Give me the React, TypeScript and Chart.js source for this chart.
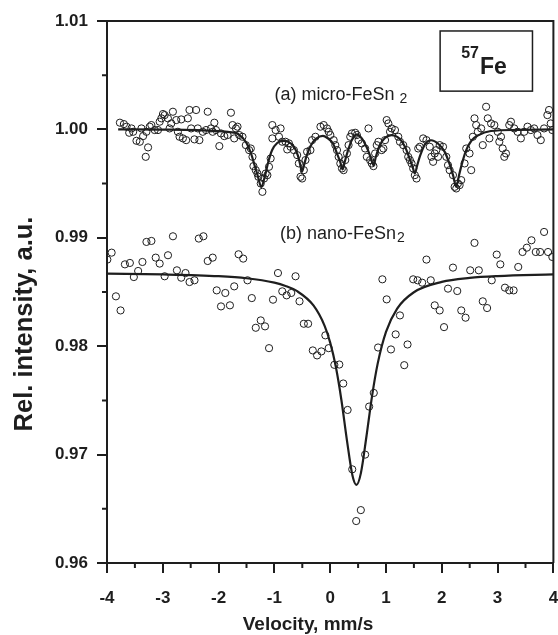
import React, { useEffect, useRef } from "react";
import { Chart, registerables } from "chart.js";

Chart.register(...registerables);

const FONT = '"Liberation Sans", Arial, Helvetica, sans-serif';
const INK = "#1e1e1e";

// (a) micro-FeSn2 measured points
const microVel = [
  -3.769, -3.697, -3.65, -3.602, -3.561, -3.531, -3.472, -3.412, -3.383, -3.353, -3.306, -3.294, -3.264, -3.234,
  -3.205, -3.145, -3.086, -3.056, -3.026, -2.997, -2.967, -2.908, -2.878, -2.848, -2.819, -2.759, -2.73, -2.7,
  -2.67, -2.64, -2.581, -2.551, -2.522, -2.492, -2.433, -2.403, -2.373, -2.344, -2.284, -2.225, -2.195, -2.136,
  -2.106, -2.076, -2.047, -1.987, -1.958, -1.898, -1.839, -1.779, -1.75, -1.72, -1.69, -1.661, -1.631, -1.572,
  -1.512, -1.453, -1.423, -1.393, -1.376, -1.334, -1.304, -1.287, -1.245, -1.215, -1.186, -1.156, -1.126, -1.097,
  -1.067, -1.037, -1.037, -0.978, -0.918, -0.889, -0.859, -0.8, -0.77, -0.74, -0.711, -0.651, -0.592, -0.562,
  -0.532, -0.503, -0.473, -0.443, -0.414, -0.354, -0.325, -0.265,
  -0.175, -0.116, -0.057, -0.027, 0.003, 0.062, 0.092, 0.122, 0.151, 0.181, 0.211, 0.24, 0.27, 0.3, 0.329, 0.359,
  0.389, 0.448, 0.478, 0.508, 0.567, 0.626, 0.656, 0.686, 0.715, 0.745, 0.775, 0.805, 0.834, 0.864, 0.923, 0.953,
  0.983, 1.012, 1.042, 1.072, 1.101, 1.161, 1.22, 1.25, 1.309, 1.369, 1.398, 1.428, 1.458, 1.487, 1.517, 1.547,
  1.577, 1.606, 1.666, 1.725, 1.784, 1.814, 1.844, 1.873, 1.903, 1.933, 1.962, 2.022, 2.081, 2.111, 2.141, 2.2,
  2.23, 2.259, 2.289, 2.319, 2.348, 2.408, 2.438, 2.497, 2.527, 2.556, 2.586, 2.616, 2.645, 2.705, 2.734, 2.794,
  2.824, 2.853, 2.883, 2.942, 3.002, 3.031, 3.061, 3.091, 3.12, 3.15, 3.209, 3.239, 3.298, 3.358, 3.417, 3.477,
  3.536, 3.596, 3.655, 3.714, 3.774, 3.833, 3.892, 3.922, 3.952, 3.981,
];
const microInt = [
  1.00062, 1.00049, 1.00025, 0.99969, 1.00009, 0.99978, 0.99895, 0.99886, 1.00009, 0.99938, 0.99747, 0.99978, 0.99834, 1.00025,
  1.0004, 0.99994, 0.99994, 1.00071, 1.00102, 1.00142, 1.00132, 1.00102, 1.00009, 1.00055, 1.00163, 1.00086, 0.99978, 0.99932,
  1.00092, 0.99917, 0.99901, 1.00102, 1.00179, 1.00009, 0.99908, 1.00179, 1.00009, 0.99901, 0.99978, 0.99994, 1.00163, 1.00009,
  0.99978, 1.00062, 0.99994, 0.99846, 0.99963, 0.99938, 0.99948, 1.00154, 1.0004, 0.99917, 1.00009, 1.00025, 0.99948, 0.99932,
  0.99855, 0.99809, 0.99824, 0.99747, 0.99661, 0.99624, 0.99593, 0.99563, 0.99501, 0.99424, 0.99547, 0.99593, 0.99578, 0.99655,
  0.99732, 1.0004, 0.99917, 0.99994, 0.99932, 1.00009, 0.99886, 0.99886, 0.99815, 0.99871, 0.9984, 0.99809, 0.99763, 0.99686,
  0.99563, 0.99547, 0.99624, 0.99717, 0.99794, 0.99809, 0.99901, 0.99932,
  1.00025, 1.0004, 1.00009, 0.99978, 0.99948, 0.99901, 0.99855, 0.99809, 0.99747, 0.99686, 0.9964, 0.99624, 0.99717, 0.99778, 0.99855, 0.99932,
  0.99963, 0.99969, 0.99948, 0.99901, 0.99871, 0.99824, 0.99747, 1.00009, 0.99717, 0.99686, 0.99661, 0.99778, 0.99855, 0.99886, 0.99809, 0.99824,
  0.99901, 1.00086, 1.00055, 0.99978, 1.00009, 0.99994, 0.99932, 0.99886, 0.99855, 0.99809, 0.99747, 0.99717, 0.99686, 0.9964, 0.99578, 0.99547,
  0.99824, 0.9984, 0.99917, 0.99901, 0.9984, 0.99747, 0.99701, 0.99778, 0.99809, 0.99747, 0.99855, 0.9984, 0.99747, 0.9967, 0.99624, 0.99578,
  0.9947, 0.99455, 0.99501, 0.99486, 0.99532, 0.99686, 0.99824, 0.99778, 0.99624, 0.99932, 1.00102, 1.0004, 0.99978, 1.00009, 0.99855, 1.00209,
  1.00102, 0.99917, 1.00055, 1.0004, 0.99978, 0.99886, 0.99932, 0.99824, 0.99747, 0.99778, 1.0004, 1.00071, 1.00009, 0.99978, 0.99917, 0.99978,
  1.00025, 0.99994, 1.00009, 0.99948, 0.99901, 1.00009, 1.00132, 1.00179, 1.00055, 0.99994,
];

// (a) fitted sextet curve
const microFitVel = [
  -3.8, -3.0, -2.4, -2.0, -1.8, -1.65, -1.5, -1.42, -1.35, -1.3, -1.235, -1.17, -1.11, -1.04, -0.95, -0.85, -0.75,
  -0.65, -0.58, -0.54, -0.505, -0.47, -0.42, -0.35, -0.25, -0.13, -0.05, 0.05, 0.12, 0.18, 0.222, 0.26, 0.31, 0.39,
  0.48, 0.57, 0.65, 0.72, 0.775, 0.82, 0.88, 0.98, 1.1, 1.22, 1.34, 1.43, 1.48, 1.517, 1.56, 1.61, 1.7, 1.81, 1.93,
  2.05, 2.14, 2.2, 2.259, 2.31, 2.37, 2.43, 2.53, 2.65, 2.88, 3.36, 4.0,
];
const microFitInt = [
  1.0, 0.99998, 0.99994, 0.99985, 0.99975, 0.99958, 0.99875, 0.9978, 0.9966, 0.99575, 0.9947, 0.9957, 0.997, 0.9981,
  0.99875, 0.99895, 0.99885, 0.9984, 0.9976, 0.9968, 0.9961, 0.9967, 0.9976, 0.9985, 0.99915, 0.9994, 0.9992, 0.9987,
  0.9978, 0.997, 0.9963, 0.997, 0.9979, 0.99905, 0.99955, 0.99915, 0.9984, 0.9975, 0.9967, 0.9975, 0.99845, 0.9992,
  0.99948, 0.99925, 0.9984, 0.9972, 0.9965, 0.99593, 0.9967, 0.99755, 0.99865, 0.999, 0.9987, 0.99795, 0.9968, 0.9958,
  0.9947, 0.9958, 0.997, 0.998, 0.99895, 0.99945, 0.99985, 0.99995, 1.0,
];

// (b) nano-FeSn2 measured points
const nanoVel = [
  -3.994, -3.917, -3.84, -3.757, -3.679, -3.59, -3.519, -3.442, -3.365, -3.293, -3.204, -3.127, -3.056, -2.967,
  -2.907, -2.818, -2.747, -2.67, -2.593, -2.521, -2.432, -2.355, -2.272, -2.195, -2.106, -2.034, -1.957, -1.88,
  -1.797, -1.72, -1.642, -1.559, -1.482, -1.405, -1.334, -1.245, -1.168, -1.096, -1.025, -0.936, -0.859, -0.781,
  -0.698, -0.621, -0.55, -0.473, -0.396, -0.312, -0.235, -0.158, -0.087, -0.027,
  0.074, 0.163, 0.234, 0.312, 0.395, 0.466, 0.549, 0.626, 0.698, 0.781, 0.858, 0.935, 1.012, 1.089, 1.173, 1.25,
  1.327, 1.386, 1.487, 1.565, 1.648, 1.725, 1.802, 1.873, 1.962, 2.04, 2.111, 2.2, 2.277, 2.349, 2.426, 2.509,
  2.586, 2.663, 2.734, 2.812, 2.895, 2.984, 3.049, 3.132, 3.209, 3.287, 3.37, 3.447, 3.524, 3.607, 3.684, 3.762,
  3.833, 3.904, 3.981,
];
const nanoInt = [
  0.98799, 0.98863, 0.9846, 0.9833, 0.98755, 0.98768, 0.98638, 0.98694, 0.98777, 0.98962, 0.98971, 0.98817, 0.98762, 0.98645,
  0.98839, 0.99014, 0.987, 0.98632, 0.98675, 0.98592, 0.98608, 0.98993, 0.99014, 0.98786, 0.98817, 0.98515, 0.98367, 0.98491,
  0.98377, 0.98552, 0.98848, 0.98808, 0.98608, 0.98444, 0.9817, 0.98238, 0.98183, 0.97982, 0.98429, 0.98675, 0.98506, 0.98469,
  0.98491, 0.98645, 0.98414, 0.98207, 0.98207, 0.97961, 0.97915, 0.97952, 0.981, 0.97982,
  0.97828, 0.97831, 0.97656, 0.97412, 0.96864, 0.96387, 0.96488, 0.97, 0.97443, 0.97569, 0.97988, 0.98617, 0.98432, 0.9797, 0.98109, 0.98284,
  0.97825, 0.98016, 0.98617, 0.98608, 0.98586, 0.98799, 0.98608, 0.98377, 0.9833, 0.98176, 0.98531, 0.98725, 0.98509, 0.9833, 0.98263, 0.987,
  0.98953, 0.987, 0.98414, 0.98352, 0.98608, 0.98845, 0.98755, 0.9854, 0.98515, 0.98515, 0.98731, 0.98869, 0.98909, 0.98977, 0.98869, 0.98869,
  0.99054, 0.98869, 0.98823,
];

// (b) fitted singlet curve
const nanoFitVel = [
  -4.0, -3.0, -2.0, -1.5, -1.0, -0.8, -0.6, -0.3, -0.1, 0.0, 0.1, 0.2, 0.3, 0.4, 0.47, 0.55, 0.65, 0.75, 0.85, 1.0,
  1.2, 1.5, 2.0, 2.5, 3.0, 4.0,
];
const nanoFitInt = [
  0.98669, 0.98662, 0.98646, 0.98627, 0.98586, 0.98556, 0.9851, 0.98376, 0.98188, 0.98033, 0.97812, 0.97506, 0.97131,
  0.96804, 0.9672, 0.96829, 0.97169, 0.9754, 0.97837, 0.98132, 0.98347, 0.98498, 0.98593, 0.9863, 0.98647, 0.98663,
];

// axis ticks
const xMin = -4;
const xMax = 4;
const yMin = 0.96;
const yMax = 1.01;
const xMinorTicks = [-3.5, -2.5, -1.5, -0.5, 0.5, 1.5, 2.5, 3.5];
const yMinorTicks = [0.965, 0.975, 0.985, 0.995, 1.005];

const toXY = (xs: number[], ys: number[]) => xs.map((v, i) => ({ x: v, y: ys[i] }));

export default function App() {
  const ref = useRef<HTMLCanvasElement>(null);

  useEffect(() => {
    document.body.style.margin = "0";
    const canvas = ref.current;
    if (!canvas) return;

    const decor = {
      id: "decor",
      afterDraw(chart: any) {
        const { ctx, chartArea: a, scales } = chart;
        const x = scales.x;
        const y = scales.y;
        ctx.save();
        ctx.strokeStyle = INK;
        ctx.lineWidth = 2;
        ctx.beginPath();
        ctx.moveTo(a.left - 1, a.top);
        ctx.lineTo(a.right, a.top);
        ctx.lineTo(a.right, a.bottom);
        ctx.stroke();

        ctx.beginPath();
        xMinorTicks.forEach((v) => {
          const px = x.getPixelForValue(v);
          ctx.moveTo(px, a.bottom);
          ctx.lineTo(px, a.bottom + 5);
        });
        yMinorTicks.forEach((v) => {
          const py = y.getPixelForValue(v);
          ctx.moveTo(a.left, py);
          ctx.lineTo(a.left - 5, py);
        });
        ctx.stroke();

        ctx.fillStyle = INK;
        ctx.textAlign = "center";
        ctx.textBaseline = "middle";
        ctx.font = `bold 19px ${FONT}`;
        ctx.fillText("Velocity, mm/s", 308, 625);
        ctx.save();
        ctx.translate(25, 324);
        ctx.rotate(-Math.PI / 2);
        ctx.font = `bold 25.5px ${FONT}`;
        ctx.fillText("Rel. intensity, a.u.", 0, 0);
        ctx.restore();

        // annotations
        ctx.textAlign = "left";
        ctx.textBaseline = "alphabetic";
        ctx.font = `18px ${FONT}`;
        const ax = x.getPixelForValue(-1.0);
        const ay = y.getPixelForValue(1.00272);
        const aText = "(a) micro-FeSn";
        ctx.fillText(aText, ax, ay);
        const aw = ctx.measureText(aText + " ").width;
        ctx.font = `14px ${FONT}`;
        ctx.fillText("2", ax + aw, ay + 3);

        ctx.font = `18px ${FONT}`;
        const bx = x.getPixelForValue(-0.9);
        const by = y.getPixelForValue(0.9899);
        const bText = "(b) nano-FeSn";
        ctx.fillText(bText, bx, by);
        const bw = ctx.measureText(bText).width;
        ctx.font = `14px ${FONT}`;
        ctx.fillText("2", bx + bw + 1, by + 3);

        // 57Fe box
        const rx0 = x.getPixelForValue(1.97);
        const rx1 = x.getPixelForValue(3.625);
        const ry0 = y.getPixelForValue(1.00908);
        const ry1 = y.getPixelForValue(1.00353);
        ctx.lineWidth = 1.5;
        ctx.strokeRect(rx0, ry0, rx1 - rx0, ry1 - ry0);
        ctx.font = `bold 16px ${FONT}`;
        ctx.fillText("57", rx0 + 21, ry0 + 27);
        const sw = ctx.measureText("57").width;
        ctx.font = `bold 23px ${FONT}`;
        ctx.fillText("Fe", rx0 + 21 + sw + 1, ry0 + 43);
        ctx.restore();
      },
    };

    const pointStyle = {
      showLine: false,
      pointRadius: 3.6,
      pointHoverRadius: 3.6,
      pointBorderWidth: 1,
      pointBorderColor: INK,
      pointBackgroundColor: "rgba(255,255,255,0)",
    };
    const lineStyle = {
      showLine: true,
      pointRadius: 0,
      borderColor: INK,
      borderWidth: 2.2,
      cubicInterpolationMode: "monotone" as const,
      fill: false,
    };

    const chart = new Chart(canvas, {
      type: "scatter",
      data: {
        datasets: [
          { label: "micro fit", data: toXY(microFitVel, microFitInt), ...lineStyle },
          { label: "nano fit", data: toXY(nanoFitVel, nanoFitInt), ...lineStyle },
          { label: "micro-FeSn2", data: toXY(microVel, microInt), ...pointStyle },
          { label: "nano-FeSn2", data: toXY(nanoVel, nanoInt), ...pointStyle },
        ],
      },
      options: {
        responsive: false,
        animation: false,
        events: [],
        layout: { padding: { left: 0, right: 2, top: 21, bottom: 0 } },
        plugins: { legend: { display: false }, tooltip: { enabled: false }, title: { display: false } },
        scales: {
          x: {
            type: "linear",
            min: xMin,
            max: xMax,
            afterFit: (s: any) => {
              s.height = 72;
              s.paddingLeft = 0;
              s.paddingRight = 0;
            },
            ticks: {
              stepSize: 1,
              color: INK,
              padding: 15,
              font: { family: FONT, size: 17, weight: "bold" },
              callback: (v: any) => String(v),
            },
            grid: { drawOnChartArea: false, drawTicks: true, tickLength: 10, lineWidth: 2, color: INK },
            border: { display: true, width: 2, color: INK },
          },
          y: {
            type: "linear",
            min: yMin,
            max: yMax,
            afterFit: (s: any) => {
              s.width = 107;
              s.paddingTop = 0;
              s.paddingBottom = 0;
            },
            ticks: {
              stepSize: 0.01,
              color: INK,
              padding: 9,
              font: { family: FONT, size: 17, weight: "bold" },
              callback: (v: any) => Number(v).toFixed(2),
            },
            grid: { drawOnChartArea: false, drawTicks: true, tickLength: 10, lineWidth: 2, color: INK },
            border: { display: true, width: 2, color: INK },
          },
        },
      },
      plugins: [decor],
    });

    return () => chart.destroy();
  }, []);

  return (
    <div style={{ position: "absolute", left: 0, top: 0, width: 558, height: 635, background: "#fff" }}>
      <canvas ref={ref} width={558} height={635} style={{ display: "block" }} />
    </div>
  );
}
